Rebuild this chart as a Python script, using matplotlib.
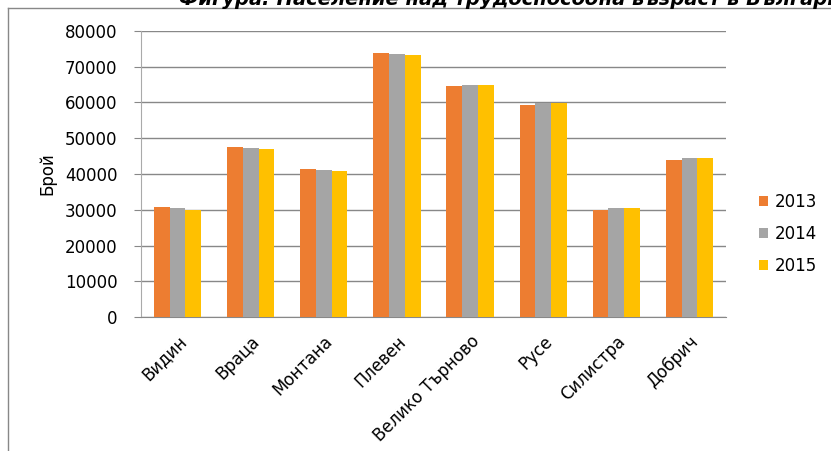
import matplotlib.pyplot as plt
import numpy as np
from matplotlib.lines import Line2D

# regions and yearly values
regions = ["Видин", "Враца", "Монтана", "Плевен", "Велико Търново", "Русе", "Силистра", "Добрич"]
years = ["2013", "2014", "2015"]
v2013 = [30700, 47500, 41300, 73900, 64700, 59400, 30000, 43800]
v2014 = [30400, 47200, 41000, 73650, 65000, 59800, 30400, 44350]
v2015 = [30000, 46900, 40700, 73350, 65000, 59800, 30400, 44350]
colors = ["#ED7D31", "#A5A5A5", "#FFC000"]

plt.rcParams['font.family'] = ['DejaVu Sans']

fig = plt.figure(figsize=(8.31, 4.51), dpi=100)
ax = fig.add_axes([0.1697, 0.2971, 0.7039, 0.6342])

x = np.arange(len(regions))
w = 0.215
for i, (vals, yr) in enumerate(zip([v2013, v2014, v2015], years)):
    ax.bar(x + (i - 1) * w, vals, width=w, color=colors[i], label=yr, zorder=3)

ax.set_xlim(-0.5, len(regions) - 0.5)
ax.set_ylim(0, 80000)
ax.set_yticks(range(0, 80001, 10000))
ax.yaxis.grid(True, color="#888888", linewidth=1, zorder=0)
ax.tick_params(axis='y', length=5, color="#888888", labelsize=12, pad=12)
ax.tick_params(axis='x', length=0, labelsize=12, pad=11)
ax.set_xticks(x)
ax.set_xticklabels(regions, rotation=45, ha='right', rotation_mode='anchor')

for s in ['top', 'right']:
    ax.spines[s].set_visible(False)
ax.spines['left'].set_color("#aaaaaa")
ax.spines['bottom'].set_color("#888888")

ax.set_ylabel("Брой", fontsize=12, labelpad=6)

ax.legend(loc='center left', bbox_to_anchor=(1.03, 0.29), frameon=False,
          fontsize=12, handlelength=0.55, handleheight=0.55, labelspacing=0.85,
          handletextpad=0.45)

# outer chart frame (left and top edges visible)
fig.add_artist(Line2D([8 / 831, 8 / 831], [0, 1 - 8 / 451], color="#888888", lw=1))
fig.add_artist(Line2D([8 / 831, 1], [1 - 8 / 451, 1 - 8 / 451], color="#888888", lw=1))

# caption cut off at the top edge, as in the original
fig.text(0.215, 1 - 5 / 451, "Фигура: Население над трудоспособна възраст в България",
         fontsize=14, fontstyle='italic', fontweight='bold', va='baseline')

fig.savefig("out.png", dpi=100)
